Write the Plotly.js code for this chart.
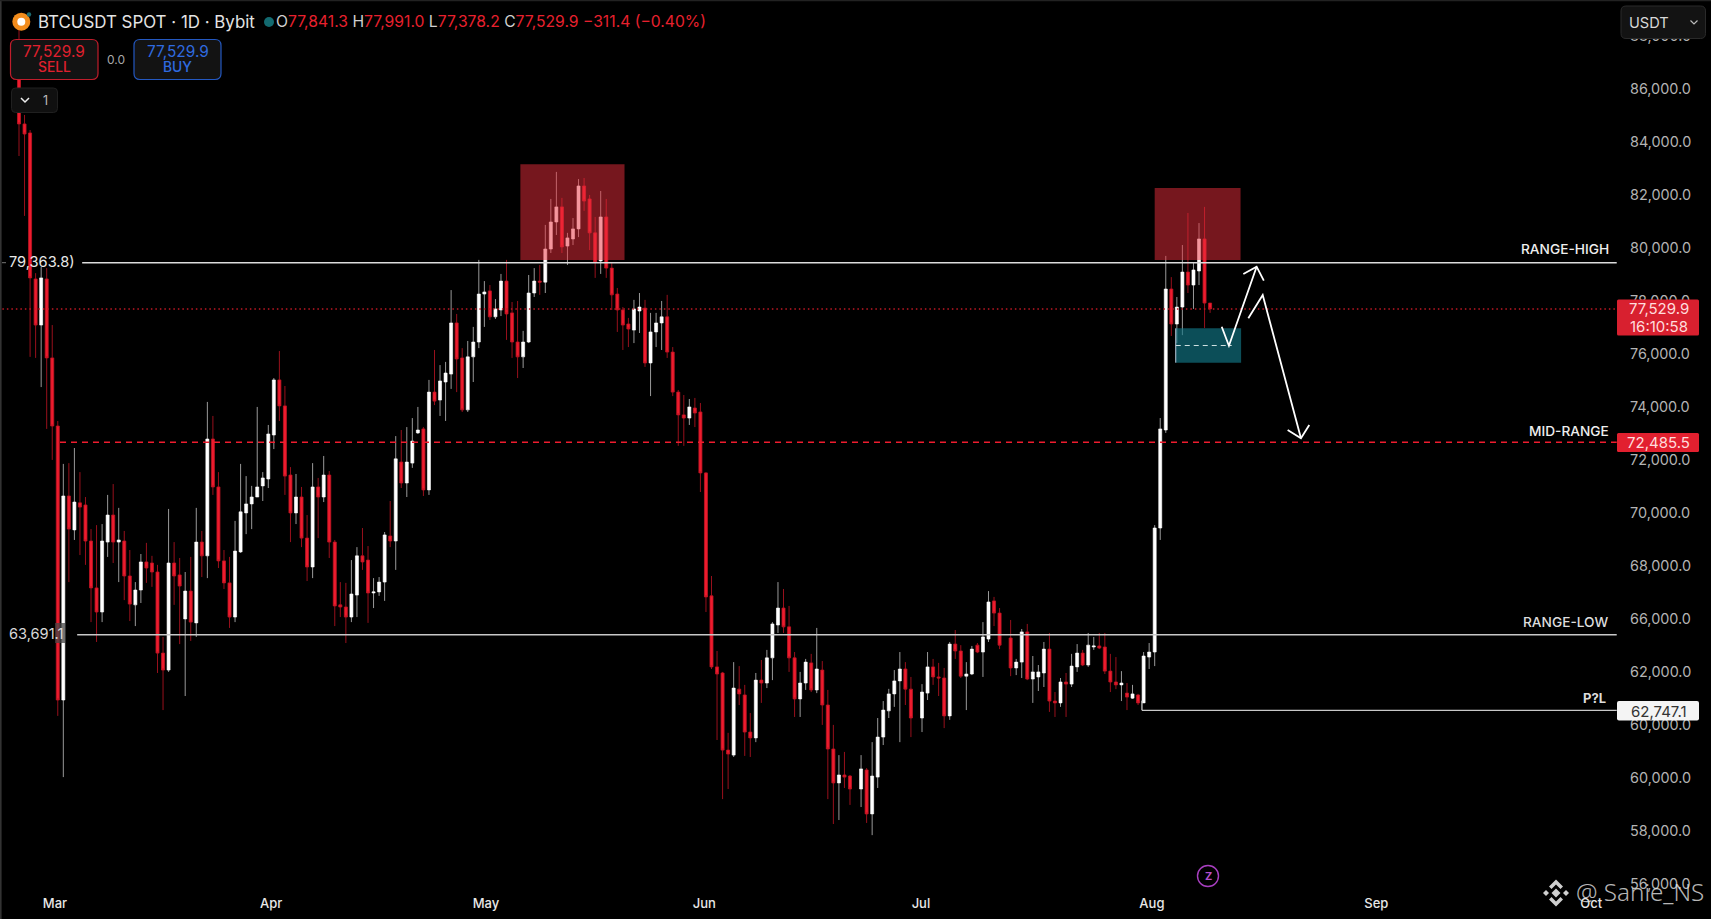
<!DOCTYPE html>
<html><head><meta charset="utf-8">
<script src="https://cdn.plot.ly/plotly-3.0.1.min.js"></script>
<style>html,body{margin:0;padding:0;background:#000;overflow:hidden}#chart{width:1711px;height:919px}</style>
</head><body><div id="chart"></div>
<script>
const openPrice=[
86400,84670,84330,78820,77080,78820,75840,73270,62930,70630,
69350,70370,70290,68930,67160,66250,68890,69910,68890,68930,
67610,66520,67080,68140,68100,67760,64700,64060,68100,67650,
65990,67040,65840,68890,68370,72780,70970,68180,67350,66060,
68520,69990,70330,70590,71010,71270,72930,75010,74030,71420,
69990,70590,69040,67950,70970,70590,71420,68890,66520,66440,
66060,66890,68370,68210,66970,67010,67380,69120,68930,71910,
71120,71870,73010,73160,70860,74550,74250,74930,75230,77160,
75840,73880,75880,76440,78250,78370,77390,77650,78740,77540,
76440,75880,76440,78290,78740,78700,79950,80970,81540,80060,
80330,80710,82330,81840,80560,79500,81160,79230,78250,77650,
77120,76890,77610,77720,75650,76820,77160,77390,76060,74550,
73690,73570,73950,73800,71500,66860,64180,63950,61040,60850,
63340,63120,61720,61500,63680,63570,64520,65760,66400,65690,
64520,62970,63570,64330,63310,64060,62740,61080,59800,60100,
60060,59570,60290,58630,60020,61530,62520,63160,63650,64100,
63340,62250,63190,64180,63800,63760,62330,65040,64780,63830,
63910,65000,64740,65230,66670,66210,65270,64140,64360,65500,
63720,63800,63950,64850,62890,62820,63610,63530,64180,64700,
64250,64930,64970,64930,64020,63610,63500,63190,63000,63120,
62820,64550,64740,69420,73120,78440,77120,77760,79080,78590,
79120,80330,77910];
const highPrice=[
88400,85010,84440,79040,79270,79230,77080,73460,71840,71870,
72440,71530,70590,69380,69530,69570,70670,71080,70180,69310,
68590,67380,68440,68860,68370,68030,65310,70140,68890,68290,
67760,68330,70180,69310,74180,73650,71530,68590,68330,69690,
71840,71380,71010,73990,71530,73310,75080,76100,74780,71720,
71460,70970,69910,71870,71310,72140,71570,68970,67380,67350,
68210,68700,69420,68740,67530,67570,69270,70440,72890,73120,
73230,73570,73990,73230,75010,76140,75570,75690,78400,77500,
76210,76480,77010,79540,78740,78590,78060,79010,79540,77950,
77990,76860,78970,79230,79350,80860,81840,82860,81880,80560,
81120,82590,82630,81990,81160,82140,81840,79420,78480,77760,
77350,78030,78290,78030,77540,77540,77990,78220,76250,74630,
74440,74290,74330,74140,71530,67610,64780,63990,61690,64360,
64210,63500,62440,63950,64440,64820,65870,67380,67120,66480,
64740,63990,64480,64670,65650,64400,63310,61990,60850,60970,
60100,60850,60360,61340,62250,62890,63350,64060,64740,64360,
63800,63530,64740,64480,64330,64140,65120,65570,65000,64360,
64970,65080,65870,67040,66820,66400,65950,64480,65610,65800,
64590,64250,65120,65460,63230,63760,63950,64670,65040,64820,
65460,65310,65460,65460,64670,64550,64020,63570,63500,63160,
64740,65080,69530,73570,79690,78890,78140,80100,81310,79420,
80930,81540,77910];
const lowPrice=[
83460,81200,75880,75840,74740,73160,71990,62330,60020,67380,
68970,68400,68030,65870,65120,65870,68330,68100,67380,66700,
65910,65720,66590,67350,67200,63950,62550,63990,66520,65040,
63080,65160,65310,67570,67530,70670,67910,67120,65650,65870,
68480,69190,69380,70590,70440,70930,72400,73460,70670,68890,
69570,68700,67420,67530,69040,70400,68290,65720,66060,65080,
65870,66060,67840,65840,66400,66860,66670,68700,67840,70930,
70590,71690,72970,70630,70670,74060,73650,73460,74670,74550,
73800,73800,74930,76210,77010,77270,77310,77420,76520,75840,
75080,75460,76400,78140,78220,78290,79800,80480,79800,79350,
80100,80400,81390,79910,78860,79010,78860,77650,76820,76140,
76250,76400,76780,75500,74400,76250,76140,75840,74400,72520,
72520,73310,73230,70780,66250,64100,61420,59190,59570,60780,
62740,60820,60780,61340,62820,63380,63680,65460,65460,63990,
62290,62290,63310,63230,63190,61990,59190,58250,58400,59610,
58970,58890,58290,57830,59610,61230,62250,62670,61340,62740,
61530,61720,62930,63500,63080,61870,62180,64480,63760,62550,
63870,64700,63800,65120,65720,64850,63830,63870,63760,63680,
62820,63270,63420,62480,62290,62670,62290,63420,63990,64210,
64180,64820,64850,63910,63230,63340,62890,62550,62970,62740,
62820,64100,64210,68970,73010,76670,76400,76700,78290,77690,
78590,76970,77540];
const closePrice=[
84670,84290,78860,77080,78860,75840,73270,62930,70630,69380,
70400,70210,68930,67160,66250,68930,69910,68890,68970,67610,
66550,67080,68140,67910,67760,64700,64060,68100,67610,67230,
67040,65870,68890,68370,72780,70970,68180,67350,66060,68550,
70030,70330,70590,70970,71310,72970,75010,74030,71380,69990,
70590,69040,67950,70970,70590,71420,68890,66480,66440,66060,
66930,68370,68140,66970,67010,67380,69160,68930,72030,71120,
71910,72700,73120,70860,74550,74210,74970,75270,77160,75800,
73880,75880,76440,78250,78330,77390,77690,78740,77500,76440,
75880,76440,78290,78740,78700,79950,80970,81540,80030,80370,
80710,82330,81760,80560,79460,81160,79230,78220,77650,77080,
76930,77690,77760,75650,76820,77160,77390,76060,74550,73690,
73570,73990,73760,71500,66820,64180,63910,61040,60890,63380,
63160,61720,61500,63680,63570,64520,65800,66400,65690,64520,
62970,63570,64360,63310,64100,62740,61080,59800,60100,60020,
59570,60330,58630,60060,61530,62550,63160,63650,64100,63340,
62250,63230,64180,63800,63760,62330,65040,64780,63830,63910,
64850,64740,65310,66630,66210,65000,64140,64360,65500,63720,
63990,63990,64850,62890,62820,63610,63530,64210,64700,64250,
65000,64970,64890,64020,63610,63500,63570,63040,63160,62820,
64590,64740,69420,73160,78440,77120,77760,79080,78590,79160,
80330,77910,77690];

// bar-slot axis: slots with no bar (the picture has small gaps in its spacing)
const emptySlots=[151,162,178];
const barSlot=[];
for(let s=0;barSlot.length<closePrice.length;s++){ if(!emptySlots.includes(s)) barSlot.push(s); }

const priceTicks=[88000,86000,84000,82000,80000,78000,76000,74000,72000,70000,68000,66000,64000,62000,60000,58000,56000];
const priceTickText=["88,000.0","86,000.0","84,000.0","82,000.0","80,000.0","78,000.0","76,000.0","74,000.0","72,000.0","70,000.0","68,000.0","66,000.0","62,000.0","60,000.0","60,000.0","58,000.0","56,000.0"];
const monthTicks=[6.5,45.5,84.3,123.7,162.8,204.5,245,283.8];
const monthText=["Mar","Apr","May","Jun","Jul","Aug","Sep","Oct"];

const rangeHigh=79434, rangeLow=65395, midRange=72655, lastPrice=77687, pnlLevel=62541;

const PW=1617, PH=889;
const xp=p=>p/PW, yp=p=>1-p/PH;
const FONT='Inter, Roboto, sans-serif';
const red='#ee1c2e';

function rr(x0,y0,x1,y1,r){
  const X=xp,Y=yp;
  return `M${X(x0+r)},${Y(y0)} L${X(x1-r)},${Y(y0)} Q${X(x1)},${Y(y0)} ${X(x1)},${Y(y0+r)} L${X(x1)},${Y(y1-r)} Q${X(x1)},${Y(y1)} ${X(x1-r)},${Y(y1)} L${X(x0+r)},${Y(y1)} Q${X(x0)},${Y(y1)} ${X(x0)},${Y(y1-r)} L${X(x0)},${Y(y0+r)} Q${X(x0)},${Y(y0)} ${X(x0+r)},${Y(y0)} Z`;
}
function poly(pts,close){
  return pts.map((p,i)=>(i?'L':'M')+xp(p[0])+','+yp(p[1])).join(' ')+(close?' Z':'');
}
const paperShape=(path,fill,lineColor,lw)=>({type:'path',xref:'paper',yref:'paper',path,fillcolor:fill||'rgba(0,0,0,0)',line:{color:lineColor||'rgba(0,0,0,0)',width:lw===undefined?1:lw}});
const paperRect=(x0,y0,x1,y1,fill)=>({type:'rect',xref:'paper',yref:'paper',x0:xp(x0),x1:xp(x1),y0:yp(y0),y1:yp(y1),fillcolor:fill,line:{width:0}});
const circle=(cx,cy,r,fill,lineColor,lw)=>({type:'circle',xref:'paper',yref:'paper',x0:xp(cx-r),x1:xp(cx+r),y0:yp(cy+r),y1:yp(cy-r),fillcolor:fill,line:{color:lineColor||'rgba(0,0,0,0)',width:lw||0}});
const hLevel=(level,x0,color,width,dash)=>({type:'line',xref:'x',yref:'y',x0,x1:288.4,y0:level,y1:level,line:{color,width,dash}});
const dataPath=(xs,ys)=>xs.map((x,i)=>(i?'L':'M')+x+','+ys[i]).join(' ');

const arrowUpX=[217.1,218.4,223.4], arrowUpY=[77018,76301,79283];
const arrowUpHeadX=[221,223.4,224.7], arrowUpHeadY=[79007,79283,78754];
const arrowDownX=[221.9,224.5,231.4], arrowDownY=[77335,78215,72807];
const arrowDownHeadX=[229,231.4,232.9], arrowDownHeadY=[73120,72807,73309];

const shapes=[
  // levels
  hLevel(lastPrice,-3,'#c01824',1.3,'1.5px,3px'),
  hLevel(midRange,7.4,'#ee1c2e',1.5,'6px,5px'),
  hLevel(rangeHigh,11.4,'#dcdcdc',1.4,'solid'),
  {type:'line',xref:'paper',yref:'y',x0:xp(2),x1:xp(6),y0:rangeHigh,y1:rangeHigh,line:{color:'#777',width:1}},
  hLevel(rangeLow,10.5,'#c8c8c8',1.4,'solid'),
  {type:'line',xref:'x',yref:'y',x0:202.7,x1:288.4,y0:pnlLevel,y1:pnlLevel,line:{color:'#c8c8c8',width:1.3}},
  {type:'line',xref:'x',yref:'y',x0:202.7,x1:202.7,y0:pnlLevel,y1:62900,line:{color:'#c8c8c8',width:1.3}},
  // zones
  {type:'rect',xref:'x',yref:'y',x0:90.5,x1:109.3,y0:79536,y1:83147,fillcolor:'rgba(235,45,60,0.5)',line:{width:0}},
  {type:'rect',xref:'x',yref:'y',x0:205,x1:220.5,y0:79536,y1:82253,fillcolor:'rgba(235,45,60,0.5)',line:{width:0}},
  {type:'rect',xref:'x',yref:'y',x0:208.8,x1:220.6,y0:75660,y1:76958,fillcolor:'rgba(18,120,135,0.65)',line:{width:0}},
  {type:'line',xref:'x',yref:'y',x0:208.8,x1:218.9,y0:76309,y1:76309,line:{color:'#cfe0e0',width:1.2,dash:'5px,4px'}},
  {type:'line',xref:'x',yref:'y',x0:208.8,x1:208.8,y0:75660,y1:76958,line:{color:'#bcd',width:1}},
  // arrows
  {type:'path',xref:'x',yref:'y',path:dataPath(arrowUpX,arrowUpY),line:{color:'#fff',width:1.8}},
  {type:'path',xref:'x',yref:'y',path:dataPath(arrowUpHeadX,arrowUpHeadY),line:{color:'#fff',width:1.8}},
  {type:'path',xref:'x',yref:'y',path:dataPath(arrowDownX,arrowDownY),line:{color:'#fff',width:1.8}},
  {type:'path',xref:'x',yref:'y',path:dataPath(arrowDownHeadX,arrowDownHeadY),line:{color:'#fff',width:1.8}},
  // frame edges
  paperRect(0,0,1.6,919,'#333'),
  paperRect(0,0,1711,1.2,'#222'),
  // price tags
  paperShape(rr(1617,299.5,1699,335.5,1.5),'#d8202f'),
  paperShape(rr(1617,433,1699,452,1.5),'#e2202f'),
  paperShape(rr(1617,701,1699,720.5,2),'#f4f4f4'),
  // USDT box
  paperShape(rr(1621,6,1705.5,38.5,5),'#131313','#2a2a2a',1),
  paperShape(poly([[1690.5,20.5],[1694,24],[1697.5,20.5]]),null,'#bbb',1.2),
  // logo
  circle(21.3,21.7,9,'#f28c1c'),
  circle(21.3,21.7,4,'#fff'),
  circle(29,14.5,2.2,'#1c6a70'),
  circle(269,22,5,'#136a70'),
  // buttons
  paperShape(rr(10.5,39.5,98,79.5,6),'#131313','#c01d2b',1.2),
  paperShape(rr(134,39.5,221,79.5,6),'#131313','#2458c0',1.2),
  paperShape(rr(11.5,88,57.5,112.5,4),'#101010','#202020',1),
  paperShape(poly([[21,98],[25,102],[29,98]]),null,'#eee',1.5),
  // left label chip
  paperRect(55,623,65,643,'rgba(70,70,70,0.75)'),
  // Z icon
  circle(1208,876,10.5,'rgba(0,0,0,0)','#a83fc0',1.4),
  // watermark logo
  paperShape(poly([[1556,888.5],[1560.5,893],[1556,897.5],[1551.5,893]],true),'#cfcfcf'),
  paperShape(poly([[1546,890],[1549,893],[1546,896],[1543,893]],true),'#cfcfcf'),
  paperShape(poly([[1566,890],[1569,893],[1566,896],[1563,893]],true),'#cfcfcf'),
  paperShape(poly([[1556,879.5],[1563,886.5],[1560.5,889],[1556,884.5],[1551.5,889],[1549,886.5]],true),'#cfcfcf'),
  paperShape(poly([[1556,906.5],[1563,899.5],[1560.5,897],[1556,901.5],[1551.5,897],[1549,899.5]],true),'#cfcfcf')
];

const note=(x,y,text,size,color,anchor,extra)=>Object.assign({xref:'paper',yref:'paper',x:xp(x),y:yp(y),text,showarrow:false,xanchor:anchor||'left',yanchor:'middle',align:anchor||'left',xshift:0,yshift:0,borderpad:0,font:{family:FONT,size,color}},extra||{});
const medium=(size,color,weight)=>({font:{family:FONT,size,color,weight}});

const gray='<span style="color:#cfcfcf">', end='</span>';
const annotations=[
  note(37,21.5,'BTCUSDT SPOT · 1D · Bybit',16.9,'#e4e4e4'),
  note(275,21.5,`${gray}O${end}77,841.3 ${gray}H${end}77,991.0 ${gray}L${end}77,378.2 ${gray}C${end}77,529.9 −311.4 (−0.40%)`,15.7,'#e8202e'),
  note(54,51.5,'77,529.9',15.4,'#e0202e','center'),
  note(54,67,'SELL',13.8,'#e0202e','center',medium(13.8,'#e0202e',500)),
  note(115.5,59,'0.0',12,'#a8a8a8','center'),
  note(177.5,51.5,'77,529.9',15.4,'#2f6be0','center'),
  note(177.5,67,'BUY',13.8,'#2f6be0','center',medium(13.8,'#2f6be0',500)),
  note(45,100.5,'1',12.5,'#bbb','center'),
  note(8,262,'79,363.8)',14.6,'#e8e8e8'),
  note(8,634,'63,691.1',14.6,'#d8d8d8'),
  note(1610,249,'RANGE-HIGH',13.7,'#eee','right',medium(13.7,'#eee',500)),
  note(1610,431,'MID-RANGE',13.7,'#eee','right',medium(13.7,'#eee',500)),
  note(1609,621.5,'RANGE-LOW',13.7,'#ddd','right',medium(13.7,'#ddd',500)),
  note(1606.5,698,'P?L',13,'#ddd','right',medium(13,'#ddd',700)),
  note(1658.5,308.7,'77,529.9',15,'#ffdcdc','center'),
  note(1658.5,326,'16:10:58',15,'#ffdcdc','center'),
  note(1658.5,442.5,'72,485.5',15,'#ffdcdc','center'),
  note(1658.5,711,'62,747.1',15,'#333','center'),
  note(1628,22.5,'USDT',14.6,'#d8d8d8'),
  note(1208,876,'Z',11,'#b44fcc','center',medium(11,'#b44fcc',700)),
  note(1575,891.5,'@ Sanie_NS',24.2,'rgba(235,235,235,0.78)','left',{font:{family:'"Noto Sans", sans-serif',size:24.2,color:'rgba(235,235,235,0.78)',weight:300}})
];

const trace={
  type:'candlestick',x:barSlot,open:openPrice,high:highPrice,low:lowPrice,close:closePrice,
  increasing:{line:{color:'rgba(255,255,255,0.6)',width:1},fillcolor:'#ffffff'},
  decreasing:{line:{color:'rgba(190,20,35,0.8)',width:1},fillcolor:red},
  whiskerwidth:0,hoverinfo:'skip',showlegend:false
};

const layout={
  width:1711,height:919,
  margin:{l:0,r:94,t:0,b:30,pad:0},
  paper_bgcolor:'#000',plot_bgcolor:'#000',
  showlegend:false,boxgap:0.22,
  font:{family:FONT,color:'#bbb'},
  xaxis:{type:'linear',range:[-3.43,288.45],tickmode:'array',tickvals:monthTicks,ticktext:monthText,
    showgrid:false,zeroline:false,showline:false,ticks:'',rangeslider:{visible:false},
    tickfont:{family:FONT,size:13,color:'#e8e8e8',weight:500},ticklabelstandoff:5,fixedrange:true},
  yaxis:{type:'linear',side:'right',range:[55797,89348],tickmode:'array',tickvals:priceTicks,ticktext:priceTickText,
    showgrid:false,zeroline:false,showline:false,ticks:'',
    tickfont:{family:FONT,size:14.4,color:'#b4b4b4'},ticklabelstandoff:12,fixedrange:true},
  shapes,annotations
};
Plotly.newPlot('chart',[trace],layout,{displayModeBar:false,staticPlot:true,responsive:false});
</script></body></html>
